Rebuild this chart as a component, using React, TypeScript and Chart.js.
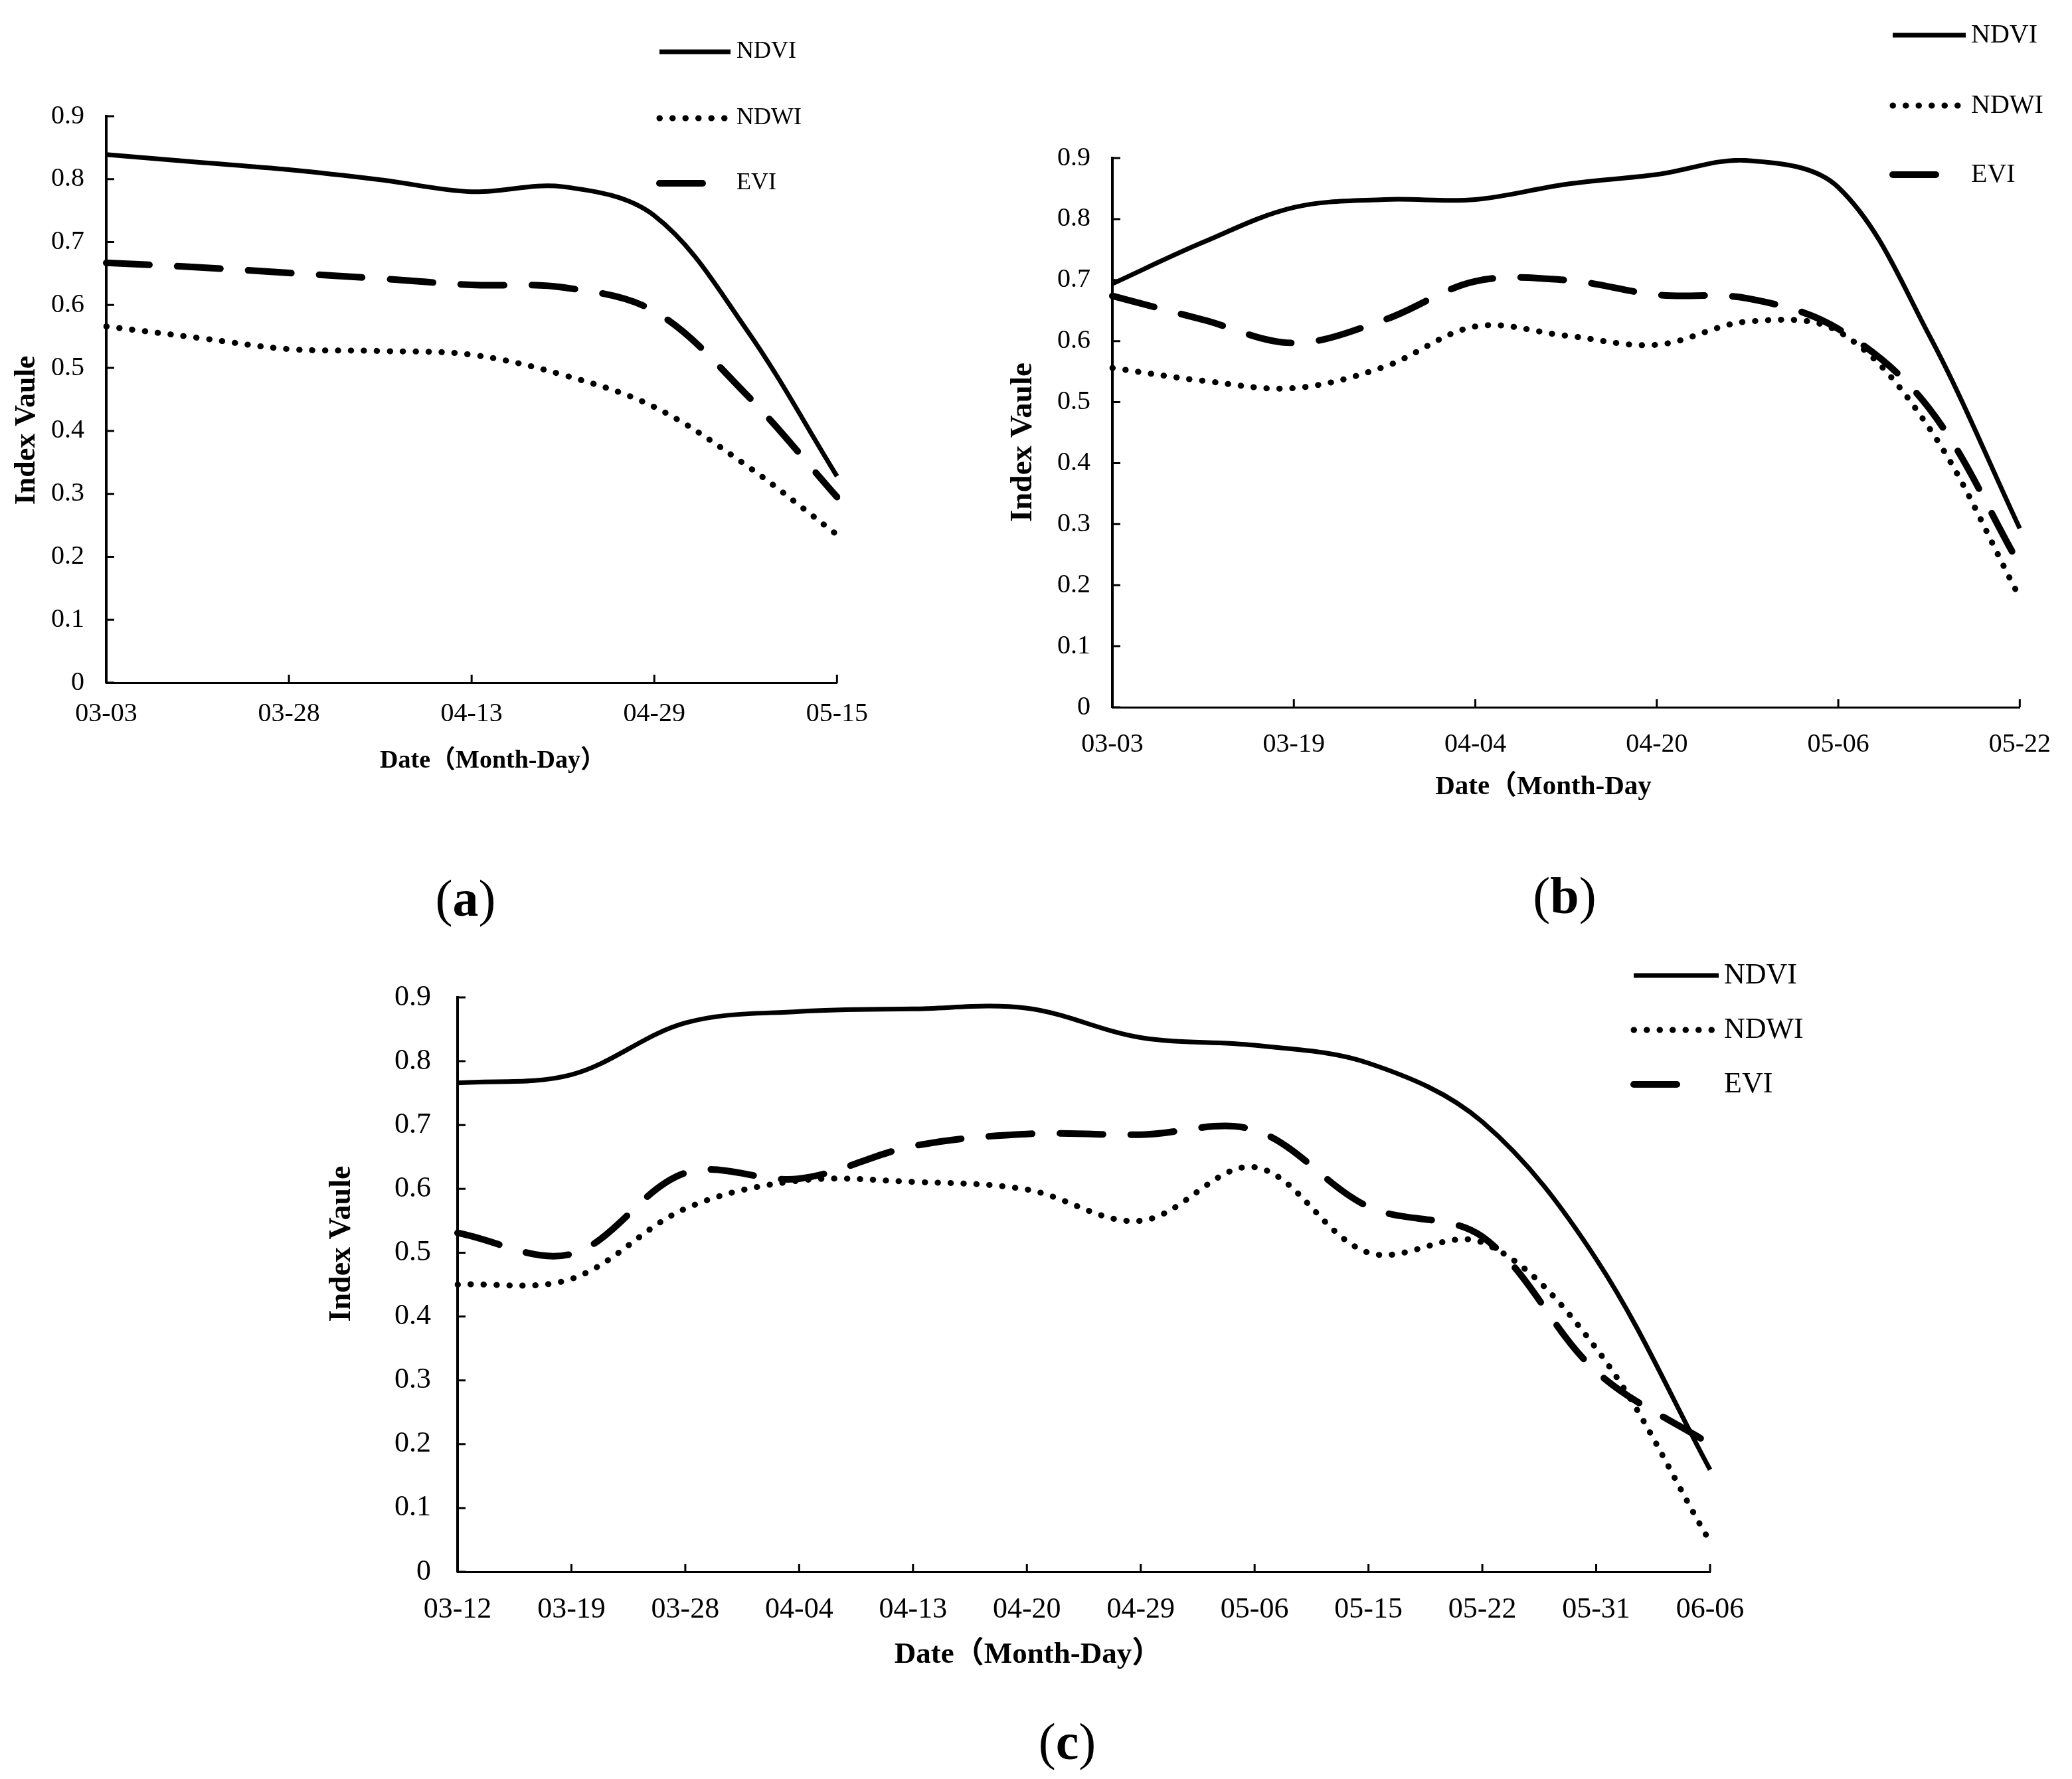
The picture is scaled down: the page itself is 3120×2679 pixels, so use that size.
import { useEffect, useRef } from "react";
import { Chart, registerables } from "chart.js";

Chart.register(...registerables);

const FONT = "'Liberation Serif', 'Times New Roman', 'Noto Sans CJK SC', serif";

// (a) observation dates, only every 2nd one is labelled on the axis
const A_DATES = ["03-03", "03-15", "03-28", "04-05", "04-13", "04-21", "04-29", "05-07", "05-15"];
const A_NDVI = [0.839, 0.827, 0.815, 0.799, 0.78, 0.788, 0.742, 0.563, 0.328];
const A_NDWI = [0.566, 0.548, 0.53, 0.527, 0.521, 0.489, 0.438, 0.346, 0.235];
const A_EVI = [0.667, 0.66, 0.651, 0.642, 0.632, 0.628, 0.59, 0.459, 0.295];

// (b)
const B_DATES = ["03-03", "03-11", "03-19", "03-27", "04-04", "04-12", "04-20", "04-28", "05-06", "05-14", "05-22"];
const B_NDVI = [0.694, 0.762, 0.819, 0.832, 0.832, 0.857, 0.873, 0.896, 0.852, 0.61, 0.293];
const B_NDWI = [0.556, 0.535, 0.523, 0.558, 0.624, 0.609, 0.594, 0.632, 0.616, 0.458, 0.18];
const B_EVI = [0.674, 0.635, 0.597, 0.635, 0.698, 0.7, 0.676, 0.67, 0.62, 0.49, 0.233];

// (c) every date labelled
const C_DATES = ["03-12", "03-19", "03-28", "04-04", "04-13", "04-20", "04-29", "05-06", "05-15", "05-22", "05-31", "06-06"];
const C_NDVI = [0.766, 0.779, 0.86, 0.878, 0.882, 0.883, 0.837, 0.825, 0.797, 0.705, 0.49, 0.16];
const C_NDWI = [0.45, 0.459, 0.569, 0.613, 0.611, 0.599, 0.55, 0.634, 0.5, 0.516, 0.35, 0.047];
const C_EVI = [0.531, 0.498, 0.625, 0.616, 0.667, 0.686, 0.685, 0.692, 0.572, 0.525, 0.314, 0.2];

const Y_TITLE = "Index Vaule";

interface PanelSpec {
  id: string;
  dates: string[];
  every: number;
  ndvi: number[];
  ndwi: number[];
  evi: number[];
  box: { left: number; top: number; width: number; height: number };
  area: { left: number; top: number; right: number; bottom: number };
  tickSize: number;
  yLabelGap: number;
  xLabelDy: number;
  xTitle: string;
  xTitleSize: number;
  xTitleAt: [number, number];
  yTitleSize: number;
  yTitleAt: [number, number];
  legendSize: number;
  legend: { x0: number; x1: number; eviX1: number; textX: number; rows: number[] };
  tagAt: [number, number];
}

const PANELS: PanelSpec[] = [
  {
    id: "a", dates: A_DATES, every: 2, ndvi: A_NDVI, ndwi: A_NDWI, evi: A_EVI,
    box: { left: 0, top: 0, width: 1330, height: 1250 },
    area: { left: 160, top: 175, right: 1266, bottom: 1028 },
    tickSize: 40, yLabelGap: 33, xLabelDy: 47,
    xTitle: "Date（Month-Day）", xTitleSize: 38, xTitleAt: [742, 1146],
    yTitleSize: 44, yTitleAt: [41, 648],
    legendSize: 36, legend: { x0: 993, x1: 1100, eviX1: 1068, textX: 1109, rows: [78, 178, 276] },
    tagAt: [701, 1353],
  },
  {
    id: "b", dates: B_DATES, every: 2, ndvi: B_NDVI, ndwi: B_NDWI, evi: B_EVI,
    box: { left: 1480, top: 0, width: 1640, height: 1250 },
    area: { left: 1675, top: 238, right: 3057, bottom: 1065 },
    tickSize: 40, yLabelGap: 33, xLabelDy: 56,
    xTitle: "Date（Month-Day", xTitleSize: 41, xTitleAt: [2324, 1185],
    yTitleSize: 47, yTitleAt: [1541, 666],
    legendSize: 40, legend: { x0: 2850, x1: 2960, eviX1: 2927, textX: 2968, rows: [53, 159, 263] },
    tagAt: [2356, 1349],
  },
  {
    id: "c", dates: C_DATES, every: 1, ndvi: C_NDVI, ndwi: C_NDWI, evi: C_EVI,
    box: { left: 380, top: 1400, width: 2740, height: 1279 },
    area: { left: 689, top: 1502, right: 2575, bottom: 2367 },
    tickSize: 44, yLabelGap: 40, xLabelDy: 57,
    xTitle: "Date（Month-Day）", xTitleSize: 45, xTitleAt: [1548, 2492],
    yTitleSize: 46, yTitleAt: [515, 1873],
    legendSize: 44, legend: { x0: 2460, x1: 2588, eviX1: 2552, textX: 2596, rows: [1469, 1551, 1633] },
    tagAt: [1607, 2623],
  },
];

function IndexPanel({ spec }: { spec: PanelSpec }) {
  const canvasRef = useRef<HTMLCanvasElement>(null);

  useEffect(() => {
    if (!canvasRef.current) return;
    const { box, area } = spec;
    const ox = box.left;
    const oy = box.top;

    // inward tick marks, axis titles and the legend
    const decor = {
      id: "decor",
      afterDraw(chart: Chart) {
        const { ctx, chartArea } = chart;
        const xs = chart.scales.x;
        const ys = chart.scales.y;
        ctx.save();
        ctx.strokeStyle = "#000";
        ctx.fillStyle = "#000";
        ctx.lineWidth = 3;
        ctx.setLineDash([]);
        ctx.lineCap = "butt";
        ctx.beginPath();
        ys.ticks.forEach((_, i) => {
          const py = ys.getPixelForTick(i);
          ctx.moveTo(chartArea.left, py);
          ctx.lineTo(chartArea.left + 12, py);
        });
        spec.dates.forEach((_, i) => {
          if (i % spec.every) return;
          const px = xs.getPixelForValue(i);
          ctx.moveTo(px, chartArea.bottom);
          ctx.lineTo(px, chartArea.bottom - 12);
        });
        ctx.stroke();

        ctx.textAlign = "center";
        ctx.textBaseline = "middle";
        ctx.font = `bold ${spec.xTitleSize}px ${FONT}`;
        ctx.fillText(spec.xTitle, spec.xTitleAt[0] - ox, spec.xTitleAt[1] - oy);
        ctx.save();
        ctx.translate(spec.yTitleAt[0] - ox, spec.yTitleAt[1] - oy);
        ctx.rotate(-Math.PI / 2);
        ctx.font = `bold ${spec.yTitleSize}px ${FONT}`;
        ctx.fillText(Y_TITLE, 0, 0);
        ctx.restore();

        const lg = spec.legend;
        chart.data.datasets.forEach((ds: any, i: number) => {
          const y = lg.rows[i] - oy;
          ctx.lineWidth = ds.borderWidth;
          ctx.setLineDash(ds.borderDash || []);
          ctx.lineCap = ds.borderCapStyle || "butt";
          ctx.beginPath();
          ctx.moveTo(lg.x0 - ox, y);
          ctx.lineTo((i === 2 ? lg.eviX1 : lg.x1) - ox, y);
          ctx.stroke();
          ctx.setLineDash([]);
          ctx.font = `${spec.legendSize}px ${FONT}`;
          ctx.textAlign = "left";
          ctx.fillText(ds.label, lg.textX - ox, y);
        });
        ctx.restore();
      },
    };

    const tickFont = { family: FONT, size: spec.tickSize };

    const chart = new Chart(canvasRef.current, {
      type: "line",
      data: {
        labels: spec.dates,
        datasets: [
          {
            label: "NDVI",
            data: spec.ndvi,
            borderColor: "#000",
            borderWidth: 7,
            borderDash: [],
            borderCapStyle: "butt",
            pointRadius: 0,
            tension: 0.35,
            fill: false,
          },
          {
            label: "NDWI",
            data: spec.ndwi,
            borderColor: "#000",
            borderWidth: 9,
            borderDash: [0.5, 19],
            borderCapStyle: "round",
            pointRadius: 0,
            tension: 0.35,
            fill: false,
          },
          {
            label: "EVI",
            data: spec.evi,
            borderColor: "#000",
            borderWidth: 10,
            borderDash: [65, 42],
            borderCapStyle: "round",
            pointRadius: 0,
            tension: 0.35,
            fill: false,
          },
        ],
      },
      options: {
        animation: false,
        responsive: true,
        maintainAspectRatio: false,
        layout: {
          padding: {
            left: 0,
            top: area.top - box.top,
            right: box.left + box.width - area.right,
            bottom: 0,
          },
        },
        plugins: {
          legend: { display: false },
          tooltip: { enabled: false },
        },
        scales: {
          x: {
            type: "category",
            offset: false,
            grid: { display: true, drawOnChartArea: false, drawTicks: false },
            border: { display: true, color: "#000", width: 3 },
            ticks: {
              autoSkip: false,
              maxRotation: 0,
              color: "#000",
              font: tickFont,
              padding: spec.xLabelDy - spec.tickSize * 0.6,
              callback: function (this: any, v: any, i: number) {
                return i % spec.every === 0 ? this.getLabelForValue(v) : "";
              },
            },
            afterFit: (s: any) => {
              s.height = box.top + box.height - area.bottom;
            },
          },
          y: {
            min: 0,
            max: 0.9,
            grid: { display: true, drawOnChartArea: false, drawTicks: false },
            border: { display: true, color: "#000", width: 4 },
            ticks: {
              stepSize: 0.1,
              color: "#000",
              font: tickFont,
              padding: spec.yLabelGap,
              callback: (v: any) => (Number(v) === 0 ? "0" : Number(v).toFixed(1)),
            },
            afterFit: (s: any) => {
              s.width = area.left - box.left;
            },
          },
        },
      },
      plugins: [decor],
    });

    return () => {
      chart.destroy();
    };
  }, [spec]);

  return (
    <div
      style={{
        position: "absolute",
        left: spec.box.left,
        top: spec.box.top,
        width: spec.box.width,
        height: spec.box.height,
      }}
    >
      <canvas ref={canvasRef} />
    </div>
  );
}

export default function App() {
  useEffect(() => {
    document.body.style.margin = "0";
  }, []);

  return (
    <div style={{ position: "relative", width: 3120, height: 2679, background: "#fff", overflow: "hidden" }}>
      {PANELS.map(p => (
        <IndexPanel key={p.id} spec={p} />
      ))}
      {PANELS.map(p => (
        <div
          key={p.id + "-tag"}
          style={{
            position: "absolute",
            left: p.tagAt[0],
            top: p.tagAt[1],
            transform: "translate(-50%, -50%)",
            fontFamily: FONT,
            fontSize: 78,
            lineHeight: 1,
            color: "#000",
          }}
        >
          (<b>{p.id}</b>)
        </div>
      ))}
    </div>
  );
}
